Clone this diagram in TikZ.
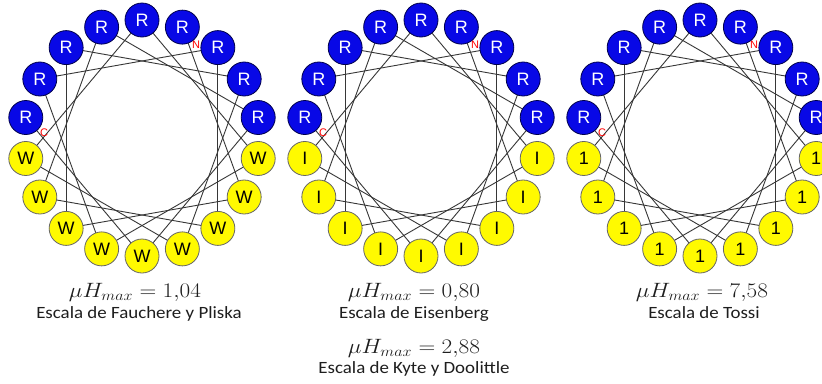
\documentclass[tikz,border=0pt]{standalone}
\usepackage{fontspec}
\setmainfont{Carlito}[FakeStretch=1.1]
\newfontfamily\arialf{Liberation Sans}
\definecolor{wblue}{RGB}{8,8,230}
\definecolor{wyellow}{RGB}{255,250,0}
\definecolor{wline}{RGB}{55,55,55}
\definecolor{wtext}{RGB}{30,30,30}
\newcommand{\mumax}[1]{\scalebox{1.12}[1]{$\mu H_{max} = #1$}}
\begin{document}
\begin{tikzpicture}[x=1pt,y=-1pt,
  conn/.style={draw=wline, line width=0.9pt},
  resbase/.style={circle, line width=0.8pt, minimum size=34pt, inner sep=0pt, font=\arialf\fontsize{18}{18}\selectfont},
  resR/.style={resbase, draw=blue!30!black, fill=wblue, text=white},
  resY/.style={resbase, draw=black!60, fill=wyellow, text=black},
  termlab/.style={text=red, font=\arialf\fontsize{11}{11}\selectfont, inner sep=0pt},
  mulab/.style={font=\fontsize{22.5}{24}\selectfont, text=wtext, inner sep=0pt, anchor=base},
  scalelab/.style={font=\fontsize{17.2}{18}\selectfont, text=wtext, inner sep=0pt, anchor=base}]
\clip (0,0) rectangle (822,383);
\path[use as bounding box, fill=white] (0,0) rectangle (822,383);
\foreach \w/\cx/\lt in {1/142/W, 2/421/I, 3/700/1} {
  \foreach \k in {1,...,18} {
    \pgfmathsetmacro\ang{70-100*(\k-1)}
    \coordinate (p\w-\k) at ({\cx+118*cos(\ang)},{138-118*sin(\ang)});
  }
  \foreach \k [evaluate=\k as \kn using int(\k+1)] in {1,...,17} {
    \draw[conn] (p\w-\k) -- (p\w-\kn);
  }
  \node[termlab] (n\w) at ({\cx+108*cos(60)},{138-108*sin(60)}) {N};
  \node[termlab] (c\w) at ({\cx+98*cos(177)},{138-98*sin(177)}) {C};
  \foreach \k in {1,...,18} {
    \pgfmathsetmacro\ang{70-100*(\k-1)}
    \pgfmathtruncatemacro\up{sin(\ang)>0 ? 1 : 0}
    \ifnum\up=1
      \node[resR] (r\w-\k) at (p\w-\k) {R};
    \else
      \node[resY] (r\w-\k) at (p\w-\k) {\lt};
    \fi
  }
}
\node[mulab] (m1) at (135,297) {\mumax{1{,}04}};
\node[scalelab] (s1) at (139,318) {Escala de Fauchere y Pliska};
\node[mulab] (m2) at (414,297) {\mumax{0{,}80}};
\node[scalelab] (s2) at (414,318) {Escala de Eisenberg};
\node[mulab] (m3) at (414,353) {\mumax{2{,}88}};
\node[scalelab] (s3) at (414,373) {Escala de Kyte y Doolittle};
\node[mulab] (m4) at (702,297) {\mumax{7{,}58}};
\node[scalelab] (s4) at (704,318) {Escala de Tossi};
\end{tikzpicture}
\end{document}
